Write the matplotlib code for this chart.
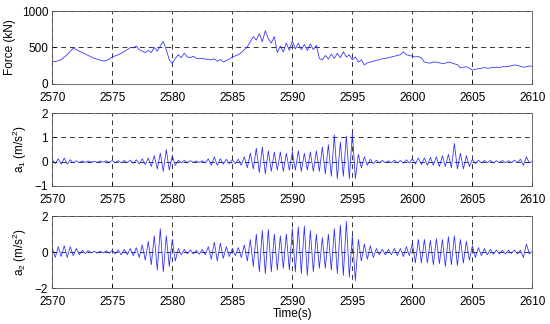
import numpy as np
import matplotlib
matplotlib.use("Agg")
import matplotlib.pyplot as plt

plt.rcParams['font.family'] = ['Liberation Sans', 'DejaVu Sans']
plt.rcParams['mathtext.default'] = 'regular'

t_start, t_step = 2570, 0.25

# force (kN), sampled every 0.25 s
force = [
    310, 305, 320, 330, 370, 400, 450, 490, 470, 450, 430, 410,
    390, 370, 350, 340, 325, 315, 320, 340, 370, 385, 400, 420,
    445, 470, 500, 495, 520, 470, 450, 430, 460, 430, 500, 450,
    520, 580, 470, 330, 280, 350, 400, 360, 420, 370, 360, 380,
    350, 345, 350, 340, 335, 330, 345, 310, 335, 300, 320, 340,
    370, 385, 400, 430, 470, 510, 580, 650, 600, 690, 580, 730,
    620, 560, 650, 430, 520, 440, 560, 460, 590, 480, 560, 470,
    540, 460, 550, 470, 530, 350, 330, 390, 340, 410, 350, 420,
    360, 440, 370, 400, 330, 370, 300, 330, 260, 290, 300, 310,
    325, 330, 345, 350, 360, 370, 380, 390, 400, 440, 400, 390,
    380, 370, 375, 360, 300, 290, 285, 300, 300, 290, 280, 285,
    300, 290, 275, 265, 220, 230, 235, 215, 190, 200, 210, 215,
    225, 215, 220, 225, 230, 225, 235, 235, 240, 250, 260, 255,
    240, 230, 235, 245, 245,
]

# acceleration a1 (m/s^2)
a1 = [
    0.1, -0.08, 0.12, -0.1, 0.15, -0.1, 0.08, -0.05, 0.04, -0.03, 0.03, -0.03,
    0.03, -0.02, 0.02, -0.03, 0.03, -0.02, 0.04, -0.03, 0.05, -0.04, 0.04, -0.05,
    0.05, -0.04, 0.06, -0.06, 0.08, -0.1, 0.12, -0.12, 0.15, -0.2, 0.25, -0.3,
    0.35, -0.4, 0.5, -0.35, 0.25, -0.15, 0.06, -0.05, 0.05, -0.03, 0.04, -0.03,
    0.03, -0.03, 0.04, -0.05, 0.12, -0.15, 0.2, -0.15, 0.12, -0.1, 0.1, -0.08,
    0.08, -0.08, 0.1, -0.15, 0.2, -0.25, 0.35, -0.3, 0.55, -0.45, 0.6, -0.5,
    0.45, -0.4, 0.4, -0.35, 0.4, -0.4, 0.35, -0.35, 0.4, -0.35, 0.45, -0.4,
    0.35, -0.35, 0.4, -0.4, 0.45, -0.4, 0.6, -0.5, 0.7, -0.6, 1.1, -0.7,
    0.8, -0.6, 1.05, -0.7, 1.2, -0.7, 0.3, -0.25, 0.2, -0.15, 0.1, -0.08,
    0.06, -0.05, 0.05, -0.04, 0.04, -0.05, 0.06, -0.05, 0.05, -0.06, 0.08, -0.06,
    0.12, -0.1, 0.15, -0.12, 0.15, -0.15, 0.18, -0.15, 0.2, -0.2, 0.25, -0.2,
    0.3, -0.25, 0.75, -0.3, 0.35, -0.3, 0.25, -0.2, 0.1, -0.08, 0.06, -0.05,
    0.05, -0.04, 0.05, -0.05, 0.04, -0.03, 0.05, -0.04, 0.04, -0.04, 0.06, -0.04,
    0.1, -0.15, 0.2, -0.05, 0.02,
]

# acceleration a2 (m/s^2)
a2 = [
    0.25, -0.3, 0.3, -0.25, 0.35, -0.3, 0.3, -0.2, 0.2, -0.15, 0.1, -0.08,
    0.08, -0.05, 0.05, -0.06, 0.05, -0.05, 0.08, -0.07, 0.1, -0.1, 0.12, -0.15,
    0.15, -0.15, 0.2, -0.2, 0.25, -0.3, 0.4, -0.45, 0.6, -0.7, 0.9, -1.0,
    1.3, -1.1, 0.9, -0.8, 0.7, -0.5, 0.2, -0.15, 0.15, -0.1, 0.12, -0.1,
    0.1, -0.12, 0.15, -0.15, 0.3, -0.4, 0.55, -0.5, 0.5, -0.35, 0.3, -0.25,
    0.2, -0.2, 0.25, -0.3, 0.4, -0.5, 0.7, -0.8, 1.0, -1.1, 1.2, -1.2,
    1.25, -1.1, 1.0, -1.0, 0.9, -0.9, 1.0, -1.0, 1.3, -1.1, 1.4, -1.2,
    1.45, -1.3, 1.2, -1.1, 1.0, -0.9, 0.8, -0.9, 1.0, -1.0, 1.3, -1.2,
    1.5, -1.3, 1.7, -1.4, 0.9, -1.6, 0.7, -0.5, 0.45, -0.4, 0.35, -0.3,
    0.2, -0.15, 0.15, -0.15, 0.15, -0.15, 0.2, -0.2, 0.2, -0.25, 0.3, -0.2,
    0.5, -0.6, 0.7, -0.6, 0.7, -0.6, 0.65, -0.7, 0.75, -0.65, 0.7, -0.8,
    0.85, -0.7, 0.9, -0.75, 0.7, -0.6, 0.6, -0.45, 0.35, -0.3, 0.25, -0.2,
    0.2, -0.15, 0.15, -0.12, 0.12, -0.1, 0.1, -0.1, 0.1, -0.08, 0.12, -0.1,
    0.1, -0.3, 0.45, -0.1, 0.05,
]

t = t_start + t_step * np.arange(len(force))

x_ticks = [2570, 2575, 2580, 2585, 2590, 2595, 2600, 2605, 2610]

fig = plt.figure(figsize=(5.5, 3.24), dpi=100)
left, width = 0.095, 0.873
ax1 = fig.add_axes([left, 0.741, width, 0.225])
ax2 = fig.add_axes([left, 0.426, width, 0.225])
ax3 = fig.add_axes([left, 0.111, width, 0.222])

panels = [
    (ax1, force, (0, 1000), [0, 500, 1000], 'Force (kN)'),
    (ax2, a1, (-1, 2), [-1, 0, 1, 2], 'a$_1$ (m/s$^2$)'),
    (ax3, a2, (-2, 2), [-2, 0, 2], 'a$_2$ (m/s$^2$)'),
]

for ax, y, ylim, yticks, ylabel in panels:
    ax.plot(t, y, color='#2a2aff', lw=0.55)
    ax.set_xlim(2570, 2610)
    ax.set_ylim(*ylim)
    ax.set_xticks(x_ticks)
    ax.set_yticks(yticks)
    ax.set_ylabel(ylabel, fontsize=8.5, labelpad=4)
    ax.tick_params(direction='in', labelsize=8.5, length=3, width=0.6)
    ax.tick_params(axis='x', pad=6)
    ax.tick_params(axis='y', pad=3)
    ax.grid(True, linestyle=(0, (5, 4)), color='#333333', lw=0.7)
    for s in ax.spines.values():
        s.set_linewidth(0.6)
        s.set_color('#555555')

ax3.set_xlabel('Time(s)', fontsize=8.5, labelpad=0)

fig.savefig('out.png', dpi=100)
